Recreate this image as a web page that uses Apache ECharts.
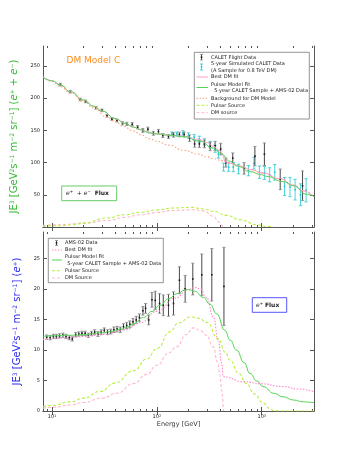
<!DOCTYPE html>
<html>
<head>
<meta charset="utf-8">
<script src="https://cdn.jsdelivr.net/npm/echarts@6/dist/echarts.min.js"></script>
<style>
  html, body { margin: 0; padding: 0; background: #fff; }
  #chart { width: 349px; height: 458px; }
</style>
</head>
<body>
<div id="chart"></div>
<script>
// ---------- upper panel: e+ + e- flux (JE^3) ----------
const caletE = [12.0, 14.9, 18.6, 20.9, 26.2, 29.9, 33.4, 37.3, 41.6, 47.0, 51.7, 58.2, 65.5, 73.5, 82.0, 92.6, 103.5, 114, 129, 144, 164, 182, 205, 229, 254, 284, 322, 359, 406, 455, 529, 678, 860, 1060, 1500, 2450];
const caletFlux = [221, 210, 198, 195, 185, 181, 172.5, 167.5, 165, 161, 160, 159.5, 155, 150, 152, 145.5, 148.5, 142, 140.5, 143, 143.5, 143.5, 138, 129, 129, 129, 125, 126, 121, 100, 107, 91, 110, 113, 74, 64];
const caletErr = [2, 2, 2, 2, 2, 2, 2, 2, 2, 2.5, 2.5, 2.5, 2.5, 3, 3, 3, 3, 3, 3, 3.5, 3.5, 4, 5, 5, 5.5, 6, 6.5, 7, 9, 7, 8, 9, 15, 17.5, 16, 23];

const simE = [139, 155, 177, 200, 227, 254, 284, 322, 359, 386, 432, 483, 535, 600, 747, 843, 950, 1060, 1190, 1330, 1650, 1860, 2080, 2340, 2650];
const simFlux = [144.5, 144.5, 146, 142, 139.5, 136.5, 132, 128, 121.5, 113, 93, 93, 93, 90, 87.5, 99, 85, 84, 81, 85, 63, 62, 58, 50, 57];
const simErr = [3, 3, 3.5, 4, 4, 4.5, 5, 5, 5.5, 6, 6, 6.5, 7, 7.5, 8, 9, 9.5, 10, 11, 12, 14, 15, 16, 17, 18];

const fitTopE = [8.2, 10, 12, 15, 20, 25, 30, 40, 50, 60, 70, 86, 100, 130, 180, 258, 346, 402, 500, 600, 770, 1000, 1110, 1600, 2000, 2660, 3150];
const fitTop = [233, 227, 220.5, 210, 197, 187.5, 180, 168.5, 160.5, 155, 151, 146, 144.5, 142.5, 140.4, 133, 122.5, 114.7, 102, 94, 86, 81, 78.5, 70.5, 64, 51, 47];

const dmFitTopE = [8.2, 10, 12, 15, 20, 25, 30, 40, 50, 60, 70, 86, 100, 130, 180, 250, 300, 350, 400, 415, 455, 500, 600, 800, 1000, 1500, 2000, 2500, 3150];
const dmFitTop = [233, 227, 220.5, 210, 197, 187.5, 180, 168.5, 160.5, 155, 151, 146, 144.5, 142.5, 141, 136, 131, 125, 118, 113, 101, 99, 95, 89, 84, 75, 65, 56, 47];

const bgTopE = [8.2, 10, 12, 15, 20, 25, 33, 40, 48, 60, 70, 85, 100, 130, 180, 250, 300, 350, 415, 455, 500, 600, 800, 1000, 1500, 2000, 2500, 3150];
const bgTop = [233, 226, 218, 208, 195, 185, 171, 164, 156, 149, 143, 137, 133, 127, 119, 113, 109, 106, 103, 101, 99, 95, 89, 84, 75, 65, 56, 47];

const dmSrcTopE = [8.2, 12, 20, 33.5, 50, 70, 100, 144, 223, 280, 346, 390, 415, 425];
const dmSrcTop = [2.5, 3.6, 6, 10, 15, 19, 22.5, 25.7, 26.8, 25, 16.6, 8, 3.6, 0];

const psrSrcTopE = [8.2, 12, 16, 20, 33, 50, 70, 100, 144, 208, 280, 346, 464, 620, 900, 1100, 1300];
const psrSrcTop = [1, 2, 3.6, 6, 14, 19, 23, 26.5, 29.4, 30.5, 28, 24.3, 18, 11.3, 3.6, 1, 0];

// ---------- lower panel: e+ flux (JE^3) ----------
const amsE = [8.9, 9.6, 10.3, 11.0, 11.8, 12.7, 13.6, 14.6, 15.6, 16.8, 18.0, 19.3, 20.7, 22.2, 23.8, 25.5, 27.4, 29.4, 31.5, 33.8, 36.3, 38.9, 41.7, 44.7, 48.0, 51.5, 55.2, 59.2, 63.5, 68.1, 73.6, 78.0, 83.5, 89.7, 96.4, 106, 115, 129, 144, 164, 186, 220, 268, 334, 436];
const amsFlux = [12.1, 12.0, 12.2, 12.2, 12.3, 12.4, 12.2, 12.0, 11.8, 12.5, 12.6, 12.7, 12.7, 12.4, 12.7, 12.9, 12.6, 12.9, 13.2, 12.9, 13.0, 13.3, 13.4, 13.3, 13.8, 14.0, 14.2, 14.6, 14.9, 15.3, 16.4, 16.8, 14.9, 18.2, 18.1, 17.6, 17.3, 17.3, 17.6, 21.4, 20.0, 21.6, 22.3, 22.3, 20.4];
const amsErr = [0.35, 0.35, 0.35, 0.35, 0.35, 0.35, 0.35, 0.35, 0.35, 0.35, 0.35, 0.35, 0.35, 0.35, 0.35, 0.4, 0.4, 0.4, 0.4, 0.4, 0.4, 0.45, 0.45, 0.45, 0.5, 0.5, 0.55, 0.55, 0.6, 0.6, 0.7, 0.8, 0.8, 1.2, 1.5, 1.6, 1.7, 1.8, 1.9, 2.2, 2.2, 2.6, 3.4, 4.3, 6.4];

const fitBotE = [8.2, 10, 15, 20, 30, 36, 45, 52, 60, 74.5, 90, 107, 130, 155, 186, 200, 230, 277, 320, 372, 445, 500, 575, 680, 772, 900, 1030, 1300, 1600, 2000, 2500, 3150];
const fitBot = [12.2, 12.3, 12.4, 12.5, 12.8, 13.0, 13.4, 13.75, 14.3, 15.3, 16.3, 17.3, 18.4, 19.2, 19.8, 19.85, 19.6, 18.6, 17.5, 15.9, 13.2, 11.6, 9.95, 7.9, 6.15, 4.9, 4.0, 2.9, 2.33, 1.8, 1.5, 1.35];

const dmFitBotE = [8.2, 15, 20, 30, 50, 70, 100, 150, 200, 230, 260, 297, 346, 385, 415, 430, 667, 1000, 1600, 2200, 3150];
const dmFitBot = [11.7, 12.0, 12.2, 12.5, 13.3, 14.5, 16.3, 18.5, 19.9, 20.2, 20.0, 18.6, 15.4, 11.6, 7.8, 5.6, 4.8, 4.45, 4.0, 3.6, 3.15];

const psrSrcBotE = [8.2, 10, 15, 20, 28.8, 40, 60, 80, 100, 134, 160, 210, 250, 300, 385, 450, 500, 600, 716, 850, 1030, 1200, 1300, 1500, 3150];
const psrSrcBot = [0.7, 0.9, 1.5, 2.1, 3.2, 4.6, 6.6, 8.5, 10.2, 13.0, 14.4, 15.4, 15.2, 14.5, 11.8, 9.6, 8.3, 6.2, 4.5, 2.8, 1.3, 0.4, 0.05, 0, 0];

const dmSrcBotE = [8.2, 10, 15, 20, 30, 41.5, 60, 80, 100, 130, 155, 190, 222, 258, 297, 344, 380, 400, 415, 430];
const dmSrcBot = [0.45, 0.6, 1.0, 1.4, 2.1, 2.9, 4.5, 6.0, 7.5, 9.5, 10.5, 12.5, 13.6, 13.2, 12.4, 10.5, 8.0, 5.8, 3.4, 0];

// ---------- axes ----------
const eMin = 8.2, eMax = 3150;
const xMajor = [10, 100, 1000];
const xMinor = [9, 20, 30, 40, 50, 60, 70, 80, 90, 200, 300, 400, 500, 600, 700, 800, 900, 2000, 3000];
const yTicksTop = [0, 50, 100, 150, 200, 250];
const yTicksBot = [0, 5, 10, 15, 20, 25];

const topLegend = ['CALET Flight Data', '5-year Simulated CALET Data', '(A Sample for 0.8 TeV DM)', 'Best DM fit', 'Pulsar Model Fit', '  5-year CALET Sample + AMS-02 Data', 'Background for DM Model', 'Pulsar Source', 'DM source'];
const botLegend = ['AMS-02 Data', 'Best DM fit', 'Pulsar Model Fit', '5-year CALET Sample + AMS-02 Data', 'Pulsar Source', 'DM Source'];

const FONT = 'DejaVu Sans';
const frame = '#555';
const col = {
  fit: '#55d455', dmFit: '#ff9ccc', bg: '#ffa080', psrSrc: '#b8f040',
  dmSrc: '#ffb8c8', sim: '#22c8d0', data: '#1a1a1a', dmDot: '#ff88c8'
};

const L = Math.log10;
const pts = (xs, ys) => xs.map((e, i) => [L(e), ys[i]]);

// grids 0/1 hold the data, 2/3 sit on top of them only to draw the minor ticks
const rects = [{ left: 43, top: 46, width: 271, height: 181 }, { left: 43, top: 232, width: 271, height: 179 }];

function xAx(grid, pos, ticks, len, withLine, label) {
  return {
    type: 'value', gridIndex: grid, position: pos, min: L(eMin), max: L(eMax),
    splitLine: { show: false },
    axisLine: { show: withLine, lineStyle: { color: frame, width: 1 } },
    axisTick: { show: true, inside: true, length: len, customValues: ticks.map(L), lineStyle: { color: frame } },
    axisLabel: label || { show: false }
  };
}

const xLabel = {
  show: true, customValues: xMajor.map(L), margin: 3, color: '#222', fontSize: 5, fontFamily: FONT,
  formatter: v => '10{sup|' + Math.round(v) + '}',
  rich: { sup: { fontSize: 3.5, verticalAlign: 'top', fontFamily: FONT, color: '#222' } }
};

function yAx(grid, pos, max, ticks, label, name, nameColor) {
  const ax = {
    type: 'value', gridIndex: grid, position: pos, min: 0, max: max,
    splitLine: { show: false },
    axisLine: { show: true, lineStyle: { color: frame, width: 1 } },
    axisTick: { show: true, inside: true, length: 4, customValues: ticks, lineStyle: { color: frame } },
    axisLabel: label ? { show: true, customValues: label, margin: 3, color: '#222', fontSize: 5, fontFamily: FONT } : { show: false }
  };
  if (name) {
    ax.name = name;
    ax.nameLocation = 'middle';
    ax.nameRotate = 90;
    ax.nameGap = 13;
    ax.nameTextStyle = {
      color: nameColor, fontSize: 10, fontFamily: FONT,
      rich: {
        sup: { fontSize: 6, verticalAlign: 'top', color: nameColor, fontFamily: FONT },
        it: { fontSize: 10, fontStyle: 'italic', color: nameColor, fontFamily: FONT }
      }
    };
  }
  return ax;
}

const topName = 'JE{sup|3} [GeV{sup|2}s{sup|−1} m{sup|−2} sr{sup|−1}] ({it|e}{sup|+} + {it|e}{sup|−})';
const botName = 'JE{sup|3} [GeV{sup|2}s{sup|−1} m{sup|−2} sr{sup|−1}] ({it|e}{sup|+})';

function curve(xs, ys, color, type, width, xi, yi) {
  return {
    type: 'line', xAxisIndex: xi, yAxisIndex: yi, data: pts(xs, ys),
    symbol: 'none', smooth: 0.5, smoothMonotone: 'x', silent: true, clip: true,
    lineStyle: { color: color, type: type, width: width }
  };
}

function errorBars(xs, ys, es, color, capColor, xi, yi) {
  return {
    type: 'custom', xAxisIndex: xi, yAxisIndex: yi, clip: true, silent: true,
    data: xs.map((e, i) => [L(e), ys[i], es[i]]),
    renderItem: (params, api) => {
      const x = api.value(0), y = api.value(1), d = api.value(2);
      const c = api.coord([x, y]);
      const hi = api.coord([x, y + d]);
      const lo = api.coord([x, y - d]);
      const w = 1.6;
      return {
        type: 'group', children: [
          { type: 'line', shape: { x1: c[0], y1: hi[1], x2: c[0], y2: lo[1] }, style: { stroke: color, lineWidth: 0.8 } },
          { type: 'line', shape: { x1: c[0] - w, y1: hi[1], x2: c[0] + w, y2: hi[1] }, style: { stroke: capColor, lineWidth: 0.8 } },
          { type: 'line', shape: { x1: c[0] - w, y1: lo[1], x2: c[0] + w, y2: lo[1] }, style: { stroke: capColor, lineWidth: 0.8 } },
          { type: 'rect', shape: { x: c[0] - 0.8, y: c[1] - 0.8, width: 1.6, height: 1.6 }, style: { fill: color } }
        ]
      };
    }
  };
}

// ---------- hand-placed legend / annotation pieces ----------
function txt(x, y, s, size, color, extra) {
  return { type: 'text', x: x, y: y, z: 20, style: Object.assign({ text: s, fontSize: size, fontFamily: FONT, fill: color, verticalAlign: 'middle' }, extra || {}) };
}
function seg(x1, x2, y, color, dash, w) {
  return { type: 'line', z: 20, shape: { x1: x1, y1: y, x2: x2, y2: y }, style: { stroke: color, lineWidth: w || 1, lineDash: dash || null } };
}
// errorbar legend icon, built from separate top-level pieces so they stack above the box
function errIcon(x, y1, y2, color, cap) {
  const ym = (y1 + y2) / 2;
  return [
    { type: 'line', z: 21, shape: { x1: x, y1: y1, x2: x, y2: y2 }, style: { stroke: color, lineWidth: 0.8 } },
    { type: 'line', z: 21, shape: { x1: x - 1.5, y1: y1, x2: x + 1.5, y2: y1 }, style: { stroke: cap, lineWidth: 0.8 } },
    { type: 'line', z: 21, shape: { x1: x - 1.5, y1: y2, x2: x + 1.5, y2: y2 }, style: { stroke: cap, lineWidth: 0.8 } },
    { type: 'rect', z: 21, shape: { x: x - 0.8, y: ym - 0.8, width: 1.6, height: 1.6 }, style: { fill: color } }
  ];
}
function box(x, y, w, h, stroke, lw) {
  return { type: 'rect', z: 19, shape: { x: x, y: y, width: w, height: h }, style: { fill: '#fff', stroke: stroke, lineWidth: lw || 0.8 } };
}

const fluxRich = {
  it: { fontStyle: 'italic', fontSize: 6, fontFamily: FONT, fill: '#222' },
  sup: { fontSize: 4, verticalAlign: 'top', fontFamily: FONT, fill: '#222' },
  b: { fontSize: 6, fontWeight: 'bold', fontFamily: FONT, fill: '#222' }
};

const graphics = [].concat(
  // top legend
  box(194.3, 52.3, 115, 66.7, '#777'),
  errIcon(201.5, 54.5, 60, col.data, '#888'),
  txt(211, 57.3, topLegend[0], 5, '#222'),
  errIcon(201.5, 64, 70, col.sim, col.sim),
  txt(211, 63.5, topLegend[1], 5, '#222'),
  txt(211, 70.3, topLegend[2], 5, '#222'),
  seg(196.5, 208, 77, col.dmFit),
  txt(211, 77, topLegend[3], 5, '#222'),
  seg(196.5, 208, 87.5, col.fit),
  txt(211, 84.3, topLegend[4], 5, '#222'),
  txt(211, 90.7, topLegend[5], 5, '#222'),
  seg(196.5, 208, 98.3, col.bg, [1.5, 1.5]),
  txt(211, 98.3, topLegend[6], 5, '#222'),
  seg(196.5, 208, 105.3, col.psrSrc, [3, 2]),
  txt(211, 105.3, topLegend[7], 5, '#222'),
  seg(196.5, 208, 112.7, col.dmSrc, [3, 2]),
  txt(211, 112.7, topLegend[8], 5, '#222'),
  // bottom legend
  box(48.3, 238.3, 115, 44.4, '#777'),
  errIcon(56.5, 240.5, 245.5, col.data, '#888'),
  txt(65, 242.7, botLegend[0], 5, '#222'),
  seg(52, 62, 250, col.dmDot, [1.5, 1.5]),
  txt(65, 250, botLegend[1], 5, '#222'),
  seg(52, 62, 260, col.fit),
  txt(65, 256.7, botLegend[2], 5, '#222'),
  txt(67.3, 263.7, botLegend[3], 5, '#222'),
  seg(52, 62, 270.7, col.psrSrc, [3, 2]),
  txt(65, 270.7, botLegend[4], 5, '#222'),
  seg(52, 62, 278, col.dmSrc, [3, 2]),
  txt(65, 278, botLegend[5], 5, '#222'),
  // annotations
  txt(66.5, 61, 'DM Model C', 9, '#ff8c1a'),
  box(61.7, 186, 55, 14.7, '#66cc66', 1),
  txt(66, 193.3, '{it|e}{sup|+}  + {it|e}{sup|−}  {b|Flux}', 6, '#222', { rich: fluxRich }),
  box(252.3, 297.7, 34.4, 14.6, '#5555ff', 1),
  txt(256, 305, '{it|e}{sup|+} {b|Flux}', 6, '#222', { rich: fluxRich })
);

const option = {
  animation: false,
  backgroundColor: '#fff',
  grid: [rects[0], rects[1], rects[0], rects[1]].map(r => Object.assign({ containLabel: false }, r)),
  xAxis: [
    xAx(0, 'bottom', xMajor, 4, true),
    xAx(0, 'top', xMajor, 4, true),
    Object.assign(xAx(1, 'bottom', xMajor, 4, true, xLabel), {
      name: 'Energy [GeV]', nameLocation: 'middle', nameGap: 10,
      nameTextStyle: { fontSize: 6.5, color: '#333', fontFamily: FONT }
    }),
    xAx(1, 'top', xMajor, 4, true),
    xAx(2, 'bottom', xMinor, 2, false),
    xAx(2, 'top', xMinor, 2, false),
    xAx(3, 'bottom', xMinor, 2, false),
    xAx(3, 'top', xMinor, 2, false)
  ],
  yAxis: [
    yAx(0, 'left', 281, yTicksTop, yTicksTop.slice(1), topName, '#33bb33'),
    yAx(0, 'right', 281, yTicksTop, null),
    yAx(1, 'left', 29.3, yTicksBot, yTicksBot, botName, '#2a2aee'),
    yAx(1, 'right', 29.3, yTicksBot, null),
    { type: 'value', gridIndex: 2, min: 0, max: 1, show: false },
    { type: 'value', gridIndex: 3, min: 0, max: 1, show: false }
  ],
  series: [
    // upper panel
    curve(bgTopE, bgTop, col.bg, [1.5, 2], 1.1, 0, 0),
    curve(dmSrcTopE, dmSrcTop, col.dmSrc, [3, 2], 1.1, 0, 0),
    curve(psrSrcTopE, psrSrcTop, col.psrSrc, [3, 2], 1.1, 0, 0),
    curve(dmFitTopE, dmFitTop, col.dmFit, 'solid', 1, 0, 0),
    curve(fitTopE, fitTop, col.fit, 'solid', 1, 0, 0),
    errorBars(simE, simFlux, simErr, col.sim, col.sim, 0, 0),
    errorBars(caletE, caletFlux, caletErr, col.data, '#888', 0, 0),
    // lower panel
    curve(psrSrcBotE, psrSrcBot, col.psrSrc, [3, 2], 1.1, 2, 2),
    curve(dmSrcBotE, dmSrcBot, col.dmSrc, [3, 2], 1.1, 2, 2),
    curve(dmFitBotE, dmFitBot, col.dmDot, [1.5, 1.5], 1.1, 2, 2),
    curve(fitBotE, fitBot, col.fit, 'solid', 1, 2, 2),
    errorBars(amsE, amsFlux, amsErr, col.data, '#888', 2, 2)
  ],
  graphic: graphics
};

const chart = echarts.init(document.getElementById('chart'));
chart.setOption(option);
</script>
</body>
</html>
